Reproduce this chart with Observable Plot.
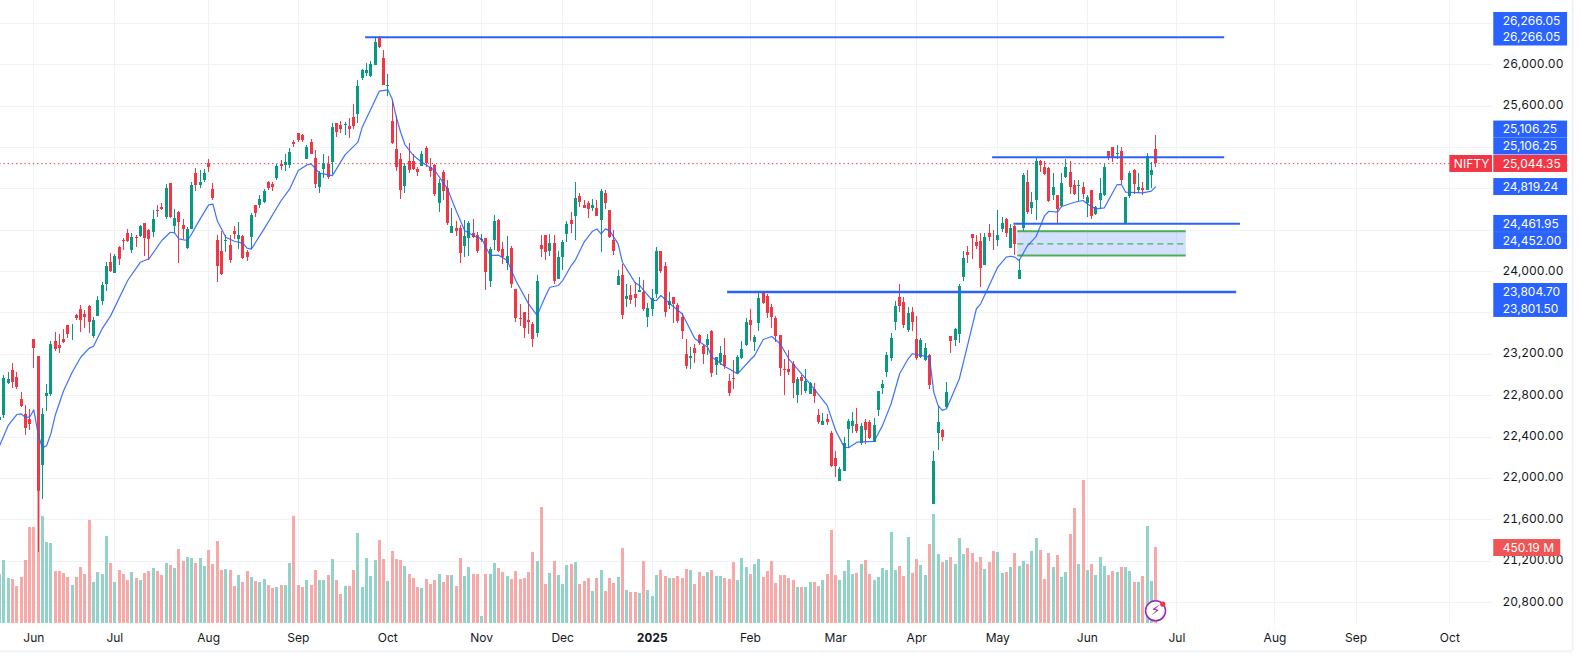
<!DOCTYPE html>
<html>
<head>
<meta charset="utf-8">
<script src="https://cdn.jsdelivr.net/npm/d3@7"></script>
<script src="https://cdn.jsdelivr.net/npm/@observablehq/plot@0.6"></script>
<style>
  html, body { margin: 0; padding: 0; background: #fff; overflow: hidden; }
</style>
</head>
<body>
<div id="chart"></div>
<script>
// bars are placed by trading-day number, as the reference skips weekends; bar 0 = 3 Jun 2024
const firstBar = -8
const opens = [
  22560,22608,22915,23044,22976,22763,22618,22570,23343,23179,
  22128,22795,22811,23324,23285,23343,23479,23466,23576,23634,
  23585,23663,23373,23566,23711,23875,24085,23982,24233,24301,
  24369,24204,24333,24339,24465,24398,24378,24591,24620,24523,
  24852,24436,24572,24446,24223,24407,24949,24833,24881,25045,
  24794,24301,24194,24294,24253,24388,24310,24339,24185,24330,
  24639,24639,24668,24862,24842,24900,25032,25026,25026,25248,
  25335,25316,25084,25248,25094,24813,24987,25036,25055,25432,
  25413,25413,25403,25490,25519,25867,25916,25887,25993,26260,
  26061,25790,25451,25181,25084,24823,25065,25065,24987,25016,
  25190,25007,25026,24658,24958,24804,24368,24417,24417,24243,
  24320,24368,24349,24301,24320,23904,24301,24494,24214,24078,
  24223,23827,23547,23605,23527,23489,23402,24252,24349,24194,
  24272,23924,24136,24359,24494,24533,24726,24639,24658,24610,
  24610,24494,24755,24591,24301,23866,23962,23730,23769,23779,
  23798,23798,23556,23634,23779,24194,24049,23672,23750,23672,
  23556,23198,23160,23256,23382,23276,23285,23421,23092,23121,
  23189,22938,22967,23015,23160,23286,23528,23315,23499,23805,
  23760,23654,23547,23383,23054,23054,23102,22803,22977,22841,
  22812,22861,22609,22513,22571,22435,22194,21971,22068,22474,
  22503,22522,22339,22542,22542,22348,22658,22870,23025,23160,
  23509,23750,23702,23431,23605,23344,23170,23141,23189,21749,
  22435,22464,22687,23373,23334,23392,23943,24185,24359,24281,
  24291,24059,24368,24343,24301,24407,24504,24223,24436,23924,
  24417,24862,24610,24688,25065,25007,24997,24736,24736,24629,
  24910,24958,24832,24823,24813,24658,24784,24552,24688,24736,
  25161,25200,25135,25161,24455,24726,24978,24784,24804,24784,24929,25181
]
const highs = [
  22600,22995,23024,23111,23024,22831,22705,22663,23343,23179,
  22673,22908,23324,23411,23392,23440,23479,23485,23585,23669,
  23624,23672,23553,23759,23898,24085,24172,24165,24243,24320,
  24407,24369,24349,24446,24465,24407,24591,24639,24659,24842,
  24852,24601,24581,24504,24426,24862,24997,24978,24987,25084,
  24852,24349,24388,24349,24349,24436,24475,24349,24204,24562,
  24639,24736,24794,24871,24862,25036,25074,25132,25190,25268,
  25335,25326,25219,25277,25171,24968,25132,25113,25432,25432,
  25451,25442,25480,25616,25848,25954,26012,26032,26264,26277,
  26138,25906,25645,25500,25142,25045,25239,25132,25007,25161,
  25210,25094,25036,24891,24978,24881,24610,24484,24446,24494,
  24484,24504,24378,24359,24320,24233,24542,24504,24281,24339,
  24243,23827,23682,23605,23779,23508,23962,24349,24349,24359,
  24349,24194,24301,24484,24571,24862,24755,24688,24678,24697,
  24688,24794,24784,24591,24397,24011,24069,23875,23866,23895,
  23943,23914,23692,23827,24233,24194,24088,23798,23750,23692,
  23595,23343,23266,23295,23392,23295,23392,23431,23169,23276,
  23353,23006,23141,23189,23325,23547,23634,23383,23799,23805,
  23779,23683,23567,23383,23151,23238,23131,22977,22996,23054,
  22928,22919,22667,22629,22619,22455,22261,22107,22397,22571,
  22638,22677,22532,22571,22561,22580,22841,22948,23218,23402,
  23712,23876,23750,23654,23654,23567,23354,23305,23199,22261,
  22696,22474,22928,23373,23451,23876,24194,24243,24359,24349,
  24368,24368,24455,24397,24591,24523,24513,24455,24446,24107,
  24949,24978,24765,25103,25074,25065,25007,24949,24736,24949,
  25084,25065,24881,24881,24862,24736,24784,24629,24900,25036,
  25161,25200,25219,25200,24716,24968,24987,24949,24862,25142,25055,25316
]
const lows = [
  22540,22579,22908,22870,22860,22686,22415,22463,23066,21287,
  21799,22650,22792,23227,23208,23301,23353,23334,23527,23414,
  23447,23405,23350,23566,23672,23808,23991,23982,24059,24204,
  24281,24175,24236,24330,24146,24107,24330,24523,24591,24504,
  24514,24369,24078,24310,24214,24407,24775,24804,24862,24958,
  24688,23895,23962,24182,24078,24310,24214,24117,24098,24214,
  24523,24610,24659,24784,24775,24881,24978,24968,24997,25200,
  25248,25248,25084,25132,24804,24755,24900,24891,24939,25297,
  25335,25316,25287,25374,25432,25848,25887,25877,25993,26157,
  25800,25693,25229,24968,24697,24755,24949,24978,24920,25016,
  25007,24910,24726,24571,24688,24446,24368,24339,24078,24136,
  24146,24320,24175,24281,23817,23846,24204,24185,24069,24011,
  23837,23508,23469,23353,23392,23266,23363,24136,24107,24146,
  23875,23924,24011,24281,24368,24301,24620,24610,24513,24581,
  24533,24185,24600,24320,24156,23866,23537,23653,23682,23653,
  23798,23614,23459,23566,23740,23982,23556,23634,23498,23498,
  23343,23053,23053,23111,23285,23102,23189,22976,22995,23092,
  23053,22793,22861,23006,23151,23276,23325,23228,23422,23683,
  23547,23450,23315,22986,22803,22996,22774,22725,22803,22822,
  22812,22725,22522,22513,22513,22107,22010,21971,22068,22290,
  22435,22435,22319,22329,22377,22348,22600,22812,22977,23131,
  23431,23605,23451,23412,23422,23141,23160,23131,22861,21749,
  22271,22358,22677,23212,23276,23305,23904,24078,24117,24214,
  23846,24059,24291,24204,24243,24378,24330,24223,24156,23924,
  24388,24552,24552,24494,24958,24929,24668,24688,24465,24620,
  24900,24745,24736,24678,24697,24523,24504,24542,24600,24726,
  25074,25055,25084,24842,24455,24707,24745,24755,24736,24784,24803,25007
]
const closes = [
  22590,22966,22953,22927,22876,22695,22486,22521,23260,21874,
  22618,22821,23295,23243,23253,23314,23392,23472,23543,23527,
  23553,23511,23527,23721,23866,24049,23998,24146,24117,24288,
  24291,24330,24323,24436,24320,24310,24504,24578,24604,24804,
  24523,24514,24475,24407,24407,24833,24833,24862,24949,25007,
  24707,24049,23972,24304,24107,24359,24349,24127,24136,24543,
  24562,24697,24775,24804,24813,25016,25020,25055,25152,25229,
  25268,25268,25200,25132,24842,24949,25045,24910,25393,25345,
  25374,25422,25374,25403,25790,25945,25945,26003,26215,26167,
  25800,25800,25239,25007,24784,25016,24978,24987,24958,25132,
  25045,24968,24745,24852,24775,24465,24436,24388,24175,24339,
  24465,24330,24194,24310,23991,24214,24484,24194,24136,24146,
  23875,23547,23540,23450,23508,23343,23904,24214,24185,24272,
  23904,24136,24281,24455,24455,24707,24668,24613,24600,24639,
  24533,24775,24658,24330,24194,23953,23576,23759,23721,23740,
  23817,23634,23643,23740,24194,24001,23605,23711,23682,23518,
  23421,23082,23179,23208,23305,23198,23343,23015,23169,23208,
  23082,22822,22961,23170,23247,23509,23480,23363,23741,23692,
  23596,23557,23373,23064,23048,23025,22919,22957,22938,22938,
  22919,22793,22542,22551,22542,22116,22116,22087,22339,22551,
  22551,22455,22503,22464,22387,22513,22841,22909,23189,23354,
  23663,23663,23480,23596,23509,23160,23334,23257,22899,22165,
  22542,22397,22832,23325,23441,23857,24127,24156,24320,24243,
  24030,24330,24330,24336,24349,24465,24368,24417,24262,24011,
  24929,24571,24668,25065,25023,24939,24678,24813,24600,24852,
  25007,24813,24745,24832,24745,24716,24533,24617,24755,25007,
  25094,25094,25142,24881,24716,24949,24842,24813,24784,25113,24978,25044.35
]
// volume, millions
const volumes = [
  288,371,265,259,217,270,371,567,567,780,
  632,478,472,306,306,294,270,223,270,330,
  288,608,241,300,288,513,353,241,312,288,
  253,300,265,253,294,306,324,306,282,353,
  342,324,436,365,389,383,353,383,336,430,
  347,484,312,318,312,217,282,241,306,270,
  247,241,259,223,205,211,223,223,353,632,
  223,211,253,223,312,253,253,282,377,253,
  170,217,217,312,531,211,383,276,371,490,
  377,247,424,377,373,338,290,266,213,207,
  261,231,255,290,243,284,284,219,385,278,
  332,290,290,41,290,290,355,326,302,278,
  261,308,261,266,302,420,367,687,231,296,
  367,284,231,343,349,361,231,249,266,190,
  266,314,190,266,237,272,444,195,184,184,
  178,367,195,160,284,314,278,266,266,278,
  266,320,314,231,302,278,302,314,278,278,
  266,261,361,255,385,332,290,349,379,272,
  308,367,237,284,284,266,255,213,213,213,
  243,243,219,255,290,551,284,255,308,373,
  290,296,349,373,290,255,272,326,314,539,
  314,338,278,509,296,379,343,284,468,646,
  409,361,373,391,349,503,409,444,415,361,
  391,320,361,426,420,296,302,332,415,338,
  367,349,426,503,432,261,415,332,403,272,
  302,527,681,349,847,314,349,284,391,338,
  284,308,302,332,332,308,243,243,278,574,249,450.19
]
// moving average vertices
const maBars = [
  -8,-7,-6,-4,-3,-2,-1,0,1,2,3,4,5,7,9,11,13,14,16,18,22,25,27,30,32,33,34,36,37,39,41,42,43,45,47,49,50,51,54,58,
  60,62,64,65,67,70,73,76,77,81,83,84,85,86,87,89,91,94,97,99,101,103,105,107,109,111,113,116,118,120,121,123,124,
  126,127,129,131,132,133,134,135,137,138,141,142,145,146,147,149,152,155,158,159,162,165,168,169,171,173,175,177,
  182,186,188,190,191,193,197,199,201,203,205,206,210,211,212,213,214,217,219,221,222,224,226,228,229,230,231,233,
  235,237,238,240,241,244,246,247,249,251,254,255,256,260,262,263
]
const maValues = [
  22318,22415,22512,22618,22625,22592,22592,22663,22431,22293,22318,22431,22608,22850,23027,23172,23260,23279,23446,23572,
  23914,24091,24124,24301,24381,24375,24317,24301,24365,24510,24646,24652,24494,24333,24294,24275,24227,24217,24414,24688,
  24800,24978,25032,25042,24952,24929,25132,25252,25397,25745,25758,25671,25493,25348,25229,25123,25058,24978,24800,24591,
  24397,24349,24317,24156,24159,24107,23914,23688,23576,23766,23849,23866,23914,
  24059,24114,24285,24391,24413,24365,24413,24397,24268,24091,23891,23866,23721,23721,23769,23695,23592,23350,23269,23173,
  23083,23012,23148,23189,23344,23373,23302,23157,
  22915,22706,22464,22303,22297,22351,22358,22513,22722,23012,23157,23206,23173,22835,22706,22658,22674,22964,23302,23641,
  23689,23866,24044,24140,24149,24140,24107,24252,
  24339,24542,24584,24575,24630,24671,24688,24655,24607,24617,24842,24842,24768,24762,24778,24819.24
]
const priceGrid = [26400,26000,25600,25200,24800,24400,24000,23600,23200,22800,22400,22000,21600,21200,20800]
// the other grid prices are hidden behind tags in the reference
const priceLabels = [26000,25600,24000,23200,22800,22400,22000,21600,21200,20800]
const monthBars = [0,19,41,62,83,105,124,168,188,207,226,247,268,291,310,332]
const monthNames = ['Jun','Jul','Aug','Sep','Oct','Nov','Dec','Feb','Mar','Apr','May','Jun','Jul','Aug','Sep','Oct']
const yearBar = 145
const yearName = '2025'
// drawn horizontal levels
const levelPrices = [26266.05,25106.25,24461.95,23804.7,23801.5]
const levelFrom = [77.8,224.8,229.8,162.7,162.7]
const levelTo = [279.2,279.2,282.9,282,282]
// long position zone
const zoneFrom = 230.7, zoneTo = 270.2
const zonePrices = [24391,24269,24156]
// scale tags: where each one sits on the price axis, and what it reads
const tagSlots = [26424,26264,25374,25210,25041,24818,24461,24296,23803,23639]
const tagTexts = ['26,266.05','26,266.05','25,106.25','25,106.25','25,044.35','24,819.24','24,461.95','24,452.00','23,804.70','23,801.50']
const tagColors = ['#2962ff','#2962ff','#2962ff','#2962ff','#f23645','#2962ff','#2962ff','#2962ff','#2962ff','#2962ff']
const lastPrice = 25044.35
const lastVolume = '450.19 M'

const GREEN = '#089981', RED = '#f23645', BLUE = '#2962ff'
const FONT = 'Inter, "Liberation Sans", sans-serif'
const bars = opens.map((o, k) => ({
  i: k + firstBar, o, h: highs[k], l: lows[k], c: closes[k], v: volumes[k],
  color: closes[k] >= o ? GREEN : RED,
  pale: closes[k] >= o ? '#91d2c9' : '#f8a9a7'
}))
const ma = maBars.map((i, k) => ({i, v: maValues[k]}))
const levels = levelPrices.map((p, k) => ({p, x1: levelFrom[k], x2: levelTo[k]}))
const tags = tagSlots.map((s, k) => ({s, text: tagTexts[k], color: tagColors[k]}))
const monthOf = new Map(monthBars.map((b, k) => [b, monthNames[k]]))

// volume shares the pane, so it is squeezed onto the price axis from the pane floor
const paneFloor = 20600
const volToPrice = v => paneFloor + v * 1.634
// bar numbers for the right-hand gutter
const gutterLeft = 342.3, gutterRight = 359.6, tagTextX = 344.4
const tagHalf = 82

const chart = Plot.plot({
  width: 1582,
  height: 659,
  marginLeft: 0,
  marginRight: 90,
  marginTop: 0,
  marginBottom: 36.3,
  style: {fontFamily: FONT, fontSize: '12px', background: '#fff', color: '#131722'},
  x: {type: 'linear', domain: [-7.81, 342]},
  y: {domain: [paneFloor, 26622]},
  marks: [
    Plot.ruleY(priceGrid, {stroke: '#f1f2f5', strokeWidth: 1, shapeRendering: 'crispEdges'}),
    Plot.ruleX(monthBars.concat(yearBar), {stroke: '#f1f2f5', strokeWidth: 1, shapeRendering: 'crispEdges'}),
    Plot.ruleX([360.8], {y1: 20329, y2: 26622, stroke: '#f0f3fa', strokeWidth: 2}),
    Plot.ruleY([20329], {x1: -8, x2: 360.8, stroke: '#f0f3fa', strokeWidth: 2}),
    Plot.axisY(priceLabels, {anchor: 'right', tickSize: 0, tickPadding: 10, dy: -0.8, fontSize: 12, fill: '#131722', tickFormat: d3.format(',.2f'), label: null}),
    Plot.axisX(monthBars, {anchor: 'bottom', tickSize: 0, tickPadding: 10, fontSize: 12, fill: '#131722', tickFormat: d => monthOf.get(d), label: null}),
    Plot.axisX([yearBar], {anchor: 'bottom', tickSize: 0, tickPadding: 10, fontSize: 12, fontWeight: 'bold', fill: '#131722', tickFormat: () => yearName, label: null}),
    Plot.ruleY([lastPrice], {x1: -8, x2: 332, stroke: RED, strokeWidth: 1, strokeDasharray: '1.4 2.8'}),
    Plot.ruleX(bars, {x: 'i', y1: paneFloor, y2: d => volToPrice(d.v), stroke: 'pale', strokeWidth: 3, shapeRendering: 'crispEdges'}),
    Plot.rect([0], {x1: zoneFrom, x2: zoneTo, y1: zonePrices[0], y2: zonePrices[2], fill: BLUE, fillOpacity: 0.2}),
    Plot.ruleY([zonePrices[0], zonePrices[2]], {x1: zoneFrom, x2: zoneTo, stroke: '#4caf50', strokeWidth: 2}),
    Plot.ruleY([zonePrices[1]], {x1: zoneFrom, x2: zoneTo, stroke: '#4caf50', strokeWidth: 1.2, strokeDasharray: '6 4'}),
    Plot.ruleX(bars, {x: 'i', y1: 'l', y2: 'h', stroke: 'color', strokeWidth: 1, shapeRendering: 'crispEdges'}),
    Plot.ruleX(bars, {x: 'i', y1: 'o', y2: 'c', stroke: 'color', strokeWidth: 3, shapeRendering: 'crispEdges'}),
    Plot.line(ma, {x: 'i', y: 'v', stroke: BLUE, strokeWidth: 1.2, strokeOpacity: 0.9}),
    Plot.ruleY(levels, {y: 'p', x1: 'x1', x2: 'x2', stroke: BLUE, strokeWidth: 2}),
    // scale tags
    Plot.rect(tags, {x1: gutterLeft, x2: gutterRight, y1: d => d.s - tagHalf, y2: d => d.s + tagHalf, fill: 'color'}),
    Plot.text(tags, {x: tagTextX, y: 's', text: 'text', fill: '#fff', textAnchor: 'start', fontSize: 12}),
    Plot.rect([0], {x1: 332, x2: 342, y1: 25041 - tagHalf, y2: 25041 + tagHalf, fill: RED}),
    Plot.text(['NIFTY'], {x: 337.1, y: 25041, fill: '#fff', fontSize: 12}),
    Plot.rect([0], {x1: gutterLeft, x2: 358, y1: 21327 - tagHalf, y2: 21327 + tagHalf, fill: '#f05454'}),
    Plot.text([lastVolume], {x: tagTextX, y: 21327, fill: '#fff', textAnchor: 'start', fontSize: 12}),
    // flash badge on the last bar
    Plot.dot([0], {x: 263, y: 20720, r: 10, fill: '#fff', stroke: '#9c27b0', strokeWidth: 1.5}),
    Plot.text(['⚡'], {x: 263, y: 20720, fill: '#9c27b0', fontSize: 14, fontFamily: 'DejaVu Sans'}),
    Plot.dot([0], {x: 264.7, y: 20784, r: 2.6, fill: RED})
  ]
})
document.querySelector('#chart').append(chart)
</script>
</body>
</html>
